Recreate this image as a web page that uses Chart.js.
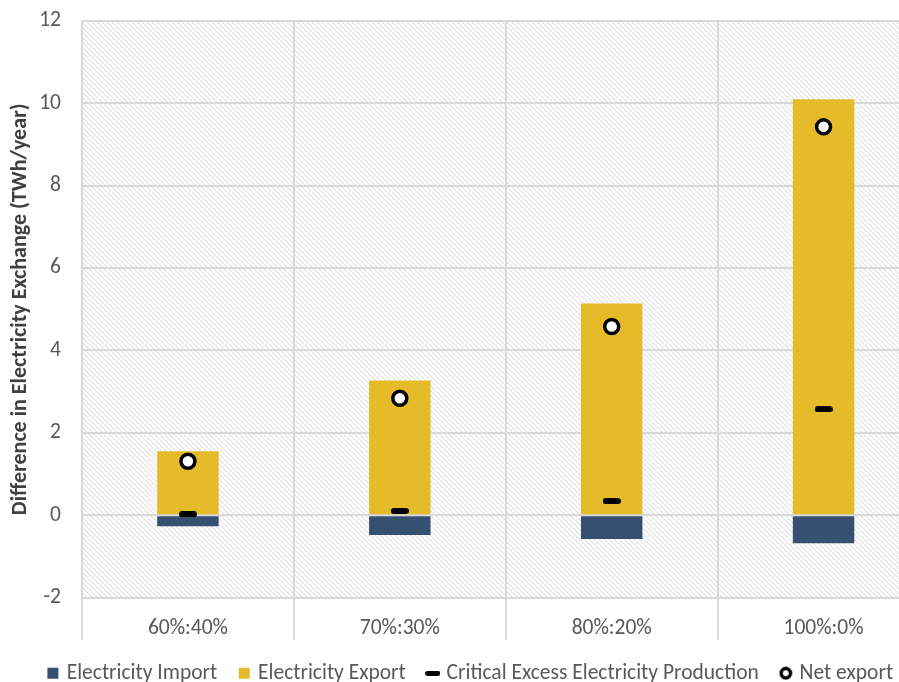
<!DOCTYPE html>
<html>
<head>
<meta charset="utf-8">
<script src="https://cdn.jsdelivr.net/npm/chart.js@4"></script>
<style>
  html, body { margin: 0; padding: 0; background: #fff; }
  #wrap { width: 899px; height: 682px; overflow: hidden; position: relative; }
</style>
</head>
<body>
<div id="wrap">
  <canvas id="exchangeChart" width="940" height="694"></canvas>
</div>
<script>
// data
const categories = ['60%:40%', '70%:30%', '80%:20%', '100%:0%'];
const importValues = [-0.27, -0.48, -0.58, -0.68];
const exportValues = [1.55, 3.27, 5.14, 10.1];
const criticalExcess = [0.02, 0.1, 0.34, 2.57];
const netExport = [1.31, 2.84, 4.58, 9.43];
const yTicks = [-2, 0, 2, 4, 6, 8, 10, 12];

const FONT = 'Carlito, Calibri, Lato, sans-serif';
const GRID = '#d9d9d9';
const TEXT = '#595959';

// little canvas icons for the markers
function makeDash(w, h) {
    const c = document.createElement('canvas');
    c.width = w; c.height = h;
    const ctx = c.getContext('2d');
    ctx.fillStyle = '#000';
    ctx.beginPath();
    ctx.roundRect(0, 0, w, h, h / 2);
    ctx.fill();
    return c;
}
function makeRing(size, r, lw) {
    const c = document.createElement('canvas');
    c.width = size; c.height = size;
    const ctx = c.getContext('2d');
    ctx.beginPath();
    ctx.arc(size / 2, size / 2, r, 0, Math.PI * 2);
    ctx.fillStyle = '#fff';
    ctx.fill();
    ctx.lineWidth = lw;
    ctx.strokeStyle = '#000';
    ctx.stroke();
    return c;
}
const dashPoint = makeDash(18, 6);
const dashLegend = makeDash(15, 5);
const ringLegend = makeRing(14, 4.7, 3.4);

// hatched plot background
function makeHatch() {
    const s = 5;
    const c = document.createElement('canvas');
    c.width = s; c.height = s;
    const ctx = c.getContext('2d');
    ctx.fillStyle = '#fff';
    ctx.fillRect(0, 0, s, s);
    ctx.strokeStyle = '#e0e0e0';
    ctx.lineWidth = 1.1;
    ctx.beginPath();
    ctx.moveTo(-1, -1); ctx.lineTo(s + 1, s + 1);
    ctx.moveTo(s - 1, -1); ctx.lineTo(s + 1, 1);
    ctx.moveTo(-1, s - 1); ctx.lineTo(1, s + 1);
    ctx.stroke();
    return c;
}

const hatchBg = {
    id: 'hatchBg',
    beforeDraw(chart) {
        const a = chart.chartArea;
        const ctx = chart.ctx;
        ctx.save();
        ctx.fillStyle = ctx.createPattern(makeHatch(), 'repeat');
        ctx.fillRect(a.left, a.top, a.right - a.left, a.bottom - a.top);
        ctx.restore();
    }
};

new Chart(document.getElementById('exchangeChart').getContext('2d'), {
    type: 'bar',
    data: {
        labels: categories,
        datasets: [
            {
                label: 'Electricity Import',
                data: importValues,
                backgroundColor: '#355070',
                pointStyle: 'rect',
                borderWidth: 0,
                order: 3
            },
            {
                label: 'Electricity Export',
                data: exportValues,
                backgroundColor: '#E5BB2A',
                pointStyle: 'rect',
                borderWidth: 0,
                order: 3
            },
            {
                type: 'line',
                label: 'Critical Excess Electricity Production',
                data: criticalExcess,
                stack: 'crit',
                showLine: false,
                pointStyle: dashPoint,
                pointRadius: 9,
                borderColor: '#000',
                backgroundColor: '#000',
                order: 2
            },
            {
                type: 'line',
                label: 'Net export',
                data: netExport,
                stack: 'net',
                showLine: false,
                pointStyle: 'circle',
                pointRadius: 7,
                pointBorderWidth: 3.5,
                borderColor: '#000',
                backgroundColor: '#fff',
                order: 1
            }
        ]
    },
    options: {
        responsive: false,
        animation: false,
        devicePixelRatio: 1,
        layout: { padding: { top: 21, right: 9, left: 12, bottom: 0 } },
        datasets: {
            bar: { barPercentage: 0.29, categoryPercentage: 1 }
        },
        scales: {
            x: {
                stacked: true,
                grid: { offset: true, color: GRID, lineWidth: 2, tickLength: 42, tickColor: GRID },
                border: { display: false },
                ticks: { color: TEXT, font: { family: FONT, size: 21.5 }, padding: -24 },
                afterFit(scale) { scale.height = 41; }
            },
            y: {
                stacked: true,
                min: -2,
                max: 12,
                afterBuildTicks(scale) { scale.ticks = yTicks.map(v => ({ value: v })); },
                // invisible tick marks keep the labels off the plot without padding the top
                grid: { color: GRID, lineWidth: 2, drawTicks: true, tickLength: 21, tickColor: 'rgba(0,0,0,0)' },
                border: { display: false },
                ticks: { color: TEXT, font: { family: FONT, size: 21.5 }, padding: 0 },
                title: {
                    display: true,
                    text: 'Difference in Electricity Exchange (TWh/year)',
                    color: '#404040',
                    font: { family: FONT, size: 22, weight: 'bold' },
                    padding: { top: -5, bottom: 0 }
                },
                afterFit(scale) { scale.width = 70; }
            }
        },
        plugins: {
            tooltip: { enabled: false },
            legend: {
                position: 'bottom',
                labels: {
                    usePointStyle: true,
                    boxHeight: 11,
                    boxWidth: 6,
                    padding: 24,
                    color: TEXT,
                    font: { family: FONT, size: 21.5 },
                    generateLabels(chart) {
                        const items = Chart.defaults.plugins.legend.labels.generateLabels(chart);
                        items.sort((a, b) => a.datasetIndex - b.datasetIndex);
                        items[0].pointStyle = 'rect';
                        items[1].pointStyle = 'rect';
                        items[2].pointStyle = dashLegend;
                        items[3].pointStyle = ringLegend;
                        return items;
                    }
                }
            }
        }
    },
    plugins: [hatchBg]
});
</script>
</body>
</html>
